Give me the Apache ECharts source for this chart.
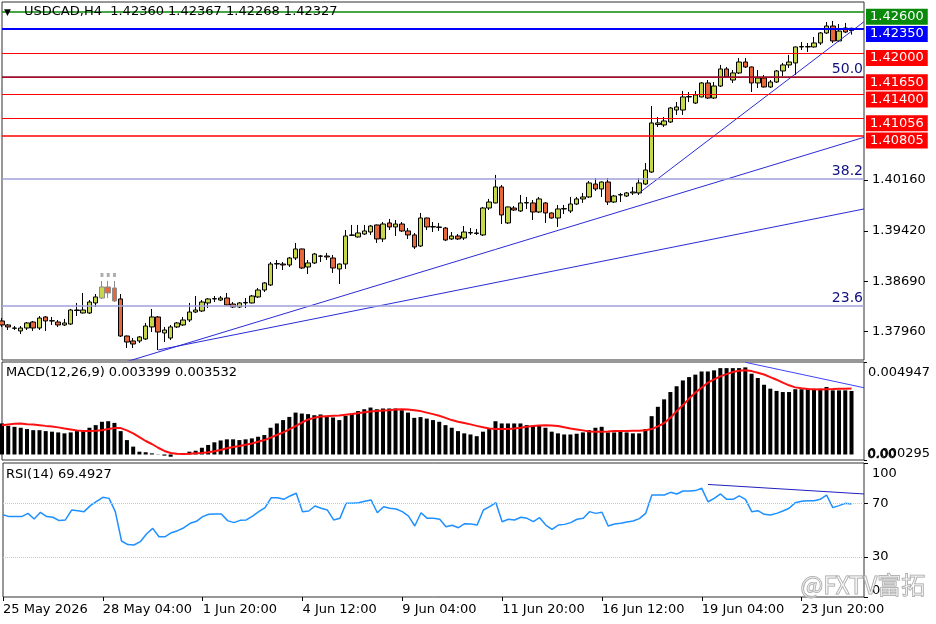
<!DOCTYPE html>
<html>
<head>
<meta charset="utf-8">
<script src="https://cdn.jsdelivr.net/npm/echarts@6/dist/echarts.min.js"></script>
<style>
html,body{margin:0;padding:0;background:#fff;}
#priceCharts{width:936px;height:624px;}
</style>
</head>
<body>
<div id="priceCharts"></div>
<script>
// USDCAD H4 bars
var opens = [1.38116,1.38058,1.38014,1.37971,1.38014,1.38101,1.38014,1.38174,1.38116,1.38101,
1.38058,1.38072,1.38275,1.38232,1.38232,1.38377,1.38449,1.38609,1.38594,1.38435,
1.37898,1.37826,1.37826,1.37855,1.38029,1.38174,1.37942,1.37869,1.38029,1.38058,
1.38130,1.38246,1.38261,1.38377,1.38435,1.38420,1.38449,1.38362,1.38319,1.38377,
1.38377,1.38464,1.38565,1.38638,1.38942,1.38942,1.38928,1.39029,1.39160,1.38899,
1.38957,1.39058,1.39058,1.39029,1.38870,1.38942,1.39363,1.39334,1.39377,1.39406,
1.39508,1.39305,1.39537,1.39479,1.39522,1.39421,1.39363,1.39203,1.39609,1.39479,
1.39479,1.39464,1.39305,1.39348,1.39319,1.39392,1.39392,1.39363,1.39754,1.39827,
1.40059,1.39537,1.39754,1.39711,1.39827,1.39827,1.39696,1.39827,1.39682,1.39609,
1.39740,1.39711,1.39812,1.39885,1.39914,1.40102,1.40030,1.40131,1.39841,1.39943,
1.39928,1.39972,1.39972,1.40102,1.40276,1.40965,1.40958,1.41001,1.41175,1.41175,
1.41364,1.41276,1.41364,1.41567,1.41349,1.41523,1.41770,1.41610,1.41712,1.41871,
1.41799,1.41567,1.41639,1.41509,1.41581,1.41741,1.41828,1.41857,1.42089,1.42095,
1.42089,1.42147,1.42292,1.42393,1.42176,1.42364,1.42360];
var closes = [1.38058,1.38029,1.38010,1.38014,1.38087,1.38014,1.38159,1.38116,1.38120,1.38058,
1.38087,1.38275,1.38268,1.38275,1.38391,1.38464,1.38609,1.38522,1.38406,1.37898,
1.37811,1.37782,1.37884,1.38043,1.38174,1.37956,1.37985,1.38029,1.38087,1.38130,
1.38246,1.38275,1.38391,1.38435,1.38440,1.38449,1.38348,1.38319,1.38377,1.38384,
1.38478,1.38565,1.38667,1.38942,1.38948,1.38928,1.39029,1.39160,1.38884,1.38957,
1.39087,1.39055,1.39044,1.38884,1.38942,1.39348,1.39358,1.39392,1.39421,1.39493,
1.39305,1.39522,1.39479,1.39522,1.39421,1.39363,1.39189,1.39609,1.39479,1.39485,
1.39472,1.39290,1.39348,1.39305,1.39406,1.39398,1.39385,1.39754,1.39841,1.40059,
1.39653,1.39769,1.39725,1.39827,1.39833,1.39696,1.39885,1.39682,1.39609,1.39740,
1.39745,1.39812,1.39885,1.39914,1.40117,1.40030,1.40131,1.39841,1.39928,1.39948,
1.39972,1.39986,1.40117,1.40305,1.40987,1.40987,1.41016,1.41204,1.41219,1.41364,
1.41370,1.41393,1.41567,1.41349,1.41523,1.41770,1.41654,1.41712,1.41871,1.41799,
1.41567,1.41639,1.41509,1.41581,1.41741,1.41828,1.41871,1.42089,1.42095,1.42089,
1.42147,1.42292,1.42393,1.42176,1.42320,1.42306,1.42327];
var lows = [1.38029,1.37985,1.37985,1.37927,1.37985,1.37971,1.37985,1.37971,1.38058,1.38029,
1.38043,1.38058,1.38188,1.38225,1.38217,1.38319,1.38435,1.38449,1.38391,1.37884,
1.37724,1.37724,1.37797,1.37840,1.37956,1.37695,1.37811,1.37840,1.38014,1.38043,
1.38101,1.38232,1.38246,1.38304,1.38391,1.38406,1.38340,1.38304,1.38304,1.38304,
1.38370,1.38449,1.38536,1.38623,1.38870,1.38855,1.38899,1.39000,1.38870,1.38797,
1.38942,1.38971,1.39000,1.38812,1.38652,1.38870,1.39348,1.39325,1.39363,1.39363,
1.39247,1.39261,1.39435,1.39348,1.39406,1.39305,1.39160,1.39189,1.39435,1.39406,
1.39421,1.39276,1.39290,1.39290,1.39290,1.39363,1.39363,1.39348,1.39725,1.39820,
1.39522,1.39522,1.39711,1.39696,1.39740,1.39580,1.39682,1.39537,1.39600,1.39479,
1.39667,1.39682,1.39798,1.39827,1.39899,1.40001,1.39914,1.39798,1.39827,1.39841,
1.39914,1.39943,1.39943,1.40088,1.40262,1.40929,1.40929,1.40987,1.41103,1.41103,
1.41291,1.41262,1.41360,1.41335,1.41335,1.41509,1.41639,1.41567,1.41697,1.41784,
1.41436,1.41494,1.41500,1.41494,1.41567,1.41668,1.41784,1.41683,1.42045,1.42016,
1.42080,1.42118,1.42277,1.42147,1.42161,1.42292,1.42268];
var highs = [1.38159,1.38072,1.38043,1.38043,1.38101,1.38116,1.38188,1.38188,1.38174,1.38130,
1.38145,1.38290,1.38377,1.38522,1.38420,1.38507,1.38696,1.38696,1.38696,1.38507,
1.37905,1.37869,1.37898,1.38087,1.38290,1.38188,1.38029,1.38058,1.38101,1.38174,
1.38377,1.38478,1.38420,1.38449,1.38478,1.38478,1.38522,1.38391,1.38391,1.38449,
1.38493,1.38594,1.38681,1.38971,1.39000,1.38971,1.39044,1.39247,1.39165,1.39000,
1.39102,1.39073,1.39102,1.39073,1.38950,1.39435,1.39508,1.39508,1.39508,1.39508,
1.39515,1.39551,1.39595,1.39580,1.39551,1.39464,1.39392,1.39682,1.39615,1.39551,
1.39537,1.39479,1.39406,1.39377,1.39493,1.39464,1.39450,1.39769,1.39885,1.40233,
1.40088,1.39775,1.39783,1.39943,1.39914,1.39870,1.39914,1.39841,1.39690,1.39798,
1.39798,1.39914,1.39914,1.39972,1.40146,1.40189,1.40138,1.40189,1.39943,1.39972,
1.39986,1.40059,1.40189,1.40407,1.41233,1.41074,1.41074,1.41219,1.41291,1.41451,
1.41436,1.41451,1.41581,1.41610,1.41581,1.41828,1.41799,1.41755,1.41929,1.41929,
1.41805,1.41755,1.41683,1.41610,1.41755,1.41857,1.41973,1.42095,1.42161,1.42147,
1.42234,1.42306,1.42451,1.42466,1.42422,1.42437,1.42367];

var macd = [0.00166,0.00153,0.00148,0.00143,0.00136,0.00130,0.00130,0.00125,0.00122,0.00118,
0.00113,0.00118,0.00125,0.00130,0.00143,0.00157,0.00175,0.00178,0.00169,0.00125,
0.00077,0.00042,0.00015,0.00012,0.00006,0.00001,-0.00006,-0.00012,0.00001,0.00006,
0.00015,0.00020,0.00036,0.00051,0.00065,0.00075,0.00081,0.00081,0.00077,0.00081,
0.00086,0.00095,0.00104,0.00143,0.00166,0.00184,0.00201,0.00224,0.00219,0.00216,
0.00210,0.00214,0.00207,0.00198,0.00184,0.00207,0.00219,0.00232,0.00242,0.00251,
0.00242,0.00246,0.00246,0.00246,0.00237,0.00224,0.00196,0.00200,0.00192,0.00184,
0.00175,0.00157,0.00143,0.00125,0.00113,0.00107,0.00098,0.00122,0.00136,0.00178,
0.00166,0.00166,0.00166,0.00166,0.00157,0.00153,0.00157,0.00143,0.00122,0.00113,
0.00107,0.00107,0.00111,0.00118,0.00130,0.00143,0.00148,0.00118,0.00118,0.00122,
0.00118,0.00113,0.00113,0.00136,0.00205,0.00255,0.00295,0.00334,0.00365,0.00396,
0.00414,0.00427,0.00444,0.00444,0.00450,0.00462,0.00462,0.00462,0.00462,0.00466,
0.00432,0.00409,0.00373,0.00352,0.00340,0.00334,0.00334,0.00349,0.00349,0.00352,
0.00349,0.00352,0.00361,0.00343,0.00343,0.00343,0.003399];
var signal = [0.00157,0.00161,0.00164,0.00166,0.00162,0.00161,0.00157,0.00153,0.00150,0.00145,
0.00139,0.00134,0.00129,0.00125,0.00125,0.00127,0.00130,0.00136,0.00141,0.00141,
0.00129,0.00113,0.00093,0.00072,0.00056,0.00036,0.00019,0.00008,0.00004,0.00003,
0.00004,0.00006,0.00008,0.00012,0.00017,0.00024,0.00033,0.00040,0.00045,0.00052,
0.00059,0.00068,0.00077,0.00090,0.00104,0.00118,0.00134,0.00152,0.00171,0.00187,
0.00196,0.00203,0.00205,0.00207,0.00208,0.00212,0.00216,0.00221,0.00226,0.00230,
0.00233,0.00235,0.00237,0.00240,0.00242,0.00240,0.00237,0.00232,0.00224,0.00216,
0.00207,0.00196,0.00184,0.00175,0.00168,0.00161,0.00153,0.00146,0.00139,0.00136,
0.00136,0.00136,0.00139,0.00143,0.00148,0.00152,0.00155,0.00157,0.00155,0.00152,
0.00146,0.00139,0.00134,0.00129,0.00123,0.00122,0.00122,0.00123,0.00125,0.00125,
0.00125,0.00127,0.00127,0.00130,0.00136,0.00150,0.00168,0.00196,0.00232,0.00263,
0.00299,0.00331,0.00357,0.00384,0.00402,0.00418,0.00430,0.00441,0.00448,0.00450,
0.00446,0.00437,0.00428,0.00414,0.00400,0.00384,0.00370,0.00359,0.00354,0.00350,
0.00349,0.00347,0.00349,0.00350,0.00352,0.00352,0.003532];
var rsi = [61.4,60.0,60.0,60.0,62.4,58.2,63.2,60.0,59.5,57.0,
57.5,64.9,64.4,63.7,68.2,71.4,74.4,73.6,63.7,41.8,
39.1,38.8,41.3,47.0,51.2,45.0,45.0,48.0,49.5,51.7,
55.0,56.5,60.0,61.7,61.9,61.9,57.0,55.5,57.2,57.5,
60.4,63.7,66.7,74.1,74.1,72.9,75.4,77.4,63.7,64.2,
67.9,66.2,64.9,57.5,58.7,69.9,69.9,70.4,71.4,72.4,
62.9,67.4,66.2,65.7,63.7,60.4,53.0,62.9,58.7,58.7,
58.0,52.5,53.5,51.7,54.7,54.5,53.7,64.9,67.4,70.4,
56.2,58.0,57.5,59.5,58.7,56.2,59.2,53.7,50.5,53.7,
54.2,55.5,58.0,58.7,63.7,62.4,63.2,53.0,54.5,55.0,
56.0,56.7,58.5,62.4,76.1,76.1,76.1,78.1,76.9,79.1,
79.1,79.4,81.1,71.1,73.6,76.9,72.9,72.9,75.4,72.9,
63.7,64.4,61.7,61.2,62.4,64.2,66.2,70.4,71.4,71.9,
71.9,72.9,76.1,66.7,68.2,69.9,69.49];

// x axis: one slot per H4 bar plus two empty slots on the right
var slotCount = 139;
var tickEvery = 16;
var tickLabels = ['25 May 2026','28 May 04:00','1 Jun 20:00','4 Jun 12:00','9 Jun 04:00',
                  '11 Jun 20:00','16 Jun 12:00','19 Jun 04:00','23 Jun 20:00'];
var priceTicks = [1.37960, 1.38690, 1.39420, 1.40160];
var macdTicks = [-0.000295, 0.004947];
var rsiTicks = [0, 30, 70, 100];

// horizontal levels drawn on the chart
var levelPrices = [1.42600, 1.42350, 1.42000, 1.41650, 1.41400, 1.41056, 1.40805];
var fibNames = ['50.0', '38.2', '23.6'];
var fibPrices = [1.41650, 1.40175, 1.38333];

// trendline anchors [bar index, value]
var trendA = [[20, 1.37527], [138, 1.40779]];
var trendB = [[25, 1.37695], [138, 1.39740]];
var trendC = [[102, 1.39972], [138, 1.42455]];
var macdTrend = [[119, 0.00493], [138, 0.00357]];
var rsiTrend = [[113, 84.0], [138, 76.9]];
var greyBars = [16, 17, 18];

var FONT = 'DejaVu Sans';

var slots = [];
for (var s = 0; s < slotCount; s++) slots.push(s);

var candles = opens.map(function(o, i){
    var item = {value: [o, closes[i], lows[i], highs[i]]};
    if (greyBars.indexOf(i) >= 0) {
        item.itemStyle = {borderColor: '#8c8c8c', borderColor0: '#8c8c8c'};
    }
    return item;
});
var greyDots = greyBars.map(function(i){ return [i, 1.38783]; });

function pad(arr){
    var out = arr.slice();
    while (out.length < slotCount) out.push('-');
    return out;
}

var levelStyle = function(p, i){
    var color = i === 0 ? '#0a8a0a' : (i === 1 ? '#0000ff' : '#ff0000');
    var width = i === 1 ? 2 : (i === 0 || i === 6 ? 1.6 : 1);
    return {
        yAxis: p,
        lineStyle: {color: color, width: width, type: 'solid'},
        label: {
            show: true, position: 'end', distance: 2, offset: [0, 5],
            formatter: p.toFixed(5), color: '#fff', backgroundColor: color,
            padding: [2, 4, 1, 4], fontSize: 13, fontFamily: FONT
        }
    };
};
var fibStyle = function(p, i){
    return {
        yAxis: p,
        lineStyle: {color: i === 0 ? '#8a1030' : '#a0a0dc', width: 1.5, type: 'solid'},
        label: {
            show: true, position: 'insideEndTop', distance: 1,
            formatter: fibNames[i], color: '#101080', fontSize: 14, fontFamily: FONT
        }
    };
};

var tickShown = function(idx){ return idx % tickEvery === 0 && idx / tickEvery < tickLabels.length; };

var trendSeries = function(data, xi, color){
    return {
        type: 'line', xAxisIndex: xi, yAxisIndex: xi, data: data,
        showSymbol: false, silent: true, z: 4,
        lineStyle: {color: color, width: 1}
    };
};

// the top label of an indicator pane sits a little below the pane edge
var paneRich = {low: {padding: [4, 0, 0, 0]}};

const option = {
    animation: false,
    backgroundColor: '#fff',
    grid: [
        {left: 2, right: 72, top: 2, height: 358, show: true, borderColor: '#303030', borderWidth: 1},
        {left: 2, right: 72, top: 362, height: 98, show: true, borderColor: '#303030', borderWidth: 1},
        {left: 2, right: 72, top: 463, height: 134, show: true, borderColor: '#303030', borderWidth: 1}
    ],
    xAxis: [0, 1, 2].map(function(g){
        return {
            type: 'category', gridIndex: g, data: slots, boundaryGap: false,
            axisLine: {show: false},
            splitLine: {show: false},
            axisTick: {show: g === 2, interval: function(idx){ return tickShown(idx); },
                       length: 4, lineStyle: {color: '#000'}},
            axisLabel: {
                show: g === 2, interval: function(idx){ return tickShown(idx); },
                formatter: function(v, idx){ return tickLabels[idx / tickEvery]; },
                align: 'left', color: '#000', fontSize: 13, fontFamily: FONT, margin: 6
            }
        };
    }),
    yAxis: [{
        gridIndex: 0, type: 'value', position: 'right', min: 1.37550, max: 1.42741,
        axisLine: {show: false}, splitLine: {show: false},
        axisTick: {show: true, customValues: priceTicks, length: 4, lineStyle: {color: '#000'}},
        axisLabel: {customValues: priceTicks, formatter: function(v){ return v.toFixed(5); },
                    color: '#000', fontSize: 13, fontFamily: FONT, margin: 8}
    }, {
        gridIndex: 1, type: 'value', position: 'right', min: -0.000295, max: 0.004947,
        axisLine: {show: false}, splitLine: {show: false},
        axisTick: {show: true, customValues: macdTicks, length: 3, lineStyle: {color: '#000'}},
        axisLabel: {customValues: macdTicks,
                    formatter: function(v){
                        var t = Math.abs(v).toFixed(6);
                        return v > 0 ? '{low|' + t + '}' : t;
                    },
                    rich: paneRich,
                    verticalAlignMinLabel: 'bottom', verticalAlignMaxLabel: 'top',
                    color: '#000', fontSize: 13, fontFamily: FONT, margin: 4}
    }, {
        gridIndex: 2, type: 'value', position: 'right', min: 0, max: 100,
        axisLine: {show: false}, splitLine: {show: false},
        axisTick: {show: true, customValues: rsiTicks, length: 4, lineStyle: {color: '#000'}},
        axisLabel: {customValues: rsiTicks,
                    formatter: function(v){ return v === 100 ? '{low|100}' : String(v); },
                    rich: paneRich,
                    verticalAlignMinLabel: 'bottom', verticalAlignMaxLabel: 'top',
                    color: '#000', fontSize: 13, fontFamily: FONT, margin: 8}
    }],
    series: [
        {
            name: 'USDCAD', type: 'candlestick', xAxisIndex: 0, yAxisIndex: 0,
            data: pad(candles), barWidth: 5, clip: false,
            itemStyle: {color: '#c8d64c', color0: '#e8673a', borderColor: '#000', borderColor0: '#000', borderWidth: 1}
        },
        {
            // grey marks over the three highlighted bars; also carries the level lines
            type: 'scatter', xAxisIndex: 0, yAxisIndex: 0, data: greyDots, clip: false,
            symbol: 'rect', symbolSize: [3, 4], itemStyle: {color: '#9a9a9a'}, silent: true, z: 3,
            markLine: {
                silent: true, symbol: ['none', 'none'], animation: false, precision: 6,
                data: levelPrices.map(levelStyle).concat(fibPrices.map(fibStyle))
            }
        },
        trendSeries(trendA, 0, '#2a2ad8'),
        trendSeries(trendB, 0, '#2a2ad8'),
        trendSeries(trendC, 0, '#2a2ad8'),
        {
            name: 'MACD', type: 'bar', xAxisIndex: 1, yAxisIndex: 1,
            data: pad(macd), barWidth: 4, itemStyle: {color: '#000'}, silent: true
        },
        {
            name: 'Signal', type: 'line', xAxisIndex: 1, yAxisIndex: 1,
            data: pad(signal), showSymbol: false, silent: true,
            lineStyle: {color: '#ff1010', width: 2}
        },
        trendSeries(macdTrend, 1, '#4040ff'),
        {
            name: 'RSI', type: 'line', xAxisIndex: 2, yAxisIndex: 2,
            data: pad(rsi), showSymbol: false, silent: true,
            lineStyle: {color: '#1e90ff', width: 1.5},
            markLine: {
                silent: true, symbol: ['none', 'none'], label: {show: false}, precision: 2,
                lineStyle: {color: '#c8c8c8', type: 'dotted', width: 1},
                data: [{yAxis: 70}, {yAxis: 30}]
            }
        },
        trendSeries(rsiTrend, 2, '#2020c0')
    ],
    graphic: [
        {type: 'text', left: 4, top: 8, z: 10, style: {text: '▼', fontSize: 9, fill: '#000', fontFamily: FONT}},
        {type: 'text', left: 24, top: 5, z: 10, style: {text: 'USDCAD,H4  1.42360 1.42367 1.42268 1.42327',
            fontSize: 13, fill: '#000', fontFamily: FONT}},
        {type: 'text', left: 6, top: 366, style: {text: 'MACD(12,26,9) 0.003399 0.003532',
            fontSize: 13, fill: '#000', fontFamily: FONT}},
        {type: 'text', left: 6, top: 468, style: {text: 'RSI(14) 69.4927',
            fontSize: 13, fill: '#000', fontFamily: FONT}},
        {type: 'text', left: 867, top: 448, style: {text: '0.00',
            fontSize: 13, fill: '#000', fontFamily: FONT, stroke: '#000', lineWidth: 0.6}},
        {type: 'text', left: 800, top: 572, z: 100, style: {text: '@FXTV富拓',
            fontSize: 24, fontFamily: 'Noto Sans CJK SC', fill: 'rgba(255,255,255,0.4)',
            stroke: '#a0a0a0', lineWidth: 1}}
    ]
};

const mychart = echarts.init(document.getElementById('priceCharts'));
mychart.setOption(option);
</script>
</body>
</html>
